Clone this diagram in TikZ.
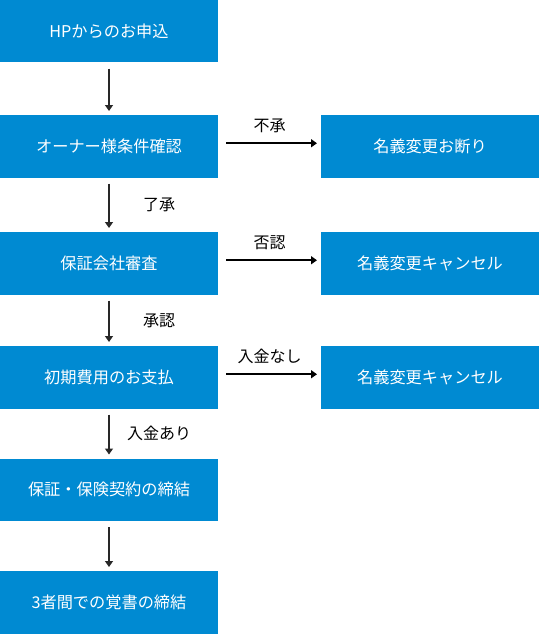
\documentclass[tikz,border=0pt]{standalone}
\usepackage{fontspec}
\setmainfont{Noto Sans CJK JP}
\usetikzlibrary{positioning, arrows.meta}

\definecolor{flowblue}{RGB}{0,138,210}
\definecolor{arrowgray}{RGB}{40,40,40}

\begin{document}
\begin{tikzpicture}[x=1pt, y=1pt,
    flow/.style={fill=flowblue, text=white, minimum width=218pt, minimum height=62.5pt,
        inner sep=0pt, outer sep=0pt, font=\fontsize{16.2}{18}\selectfont},
    down/.style={-{Triangle[width=8pt, length=6pt]}, arrowgray, line width=1.3pt,
        shorten <=6pt, shorten >=4pt},
    side/.style={-{Triangle[width=8pt, length=6pt]}, black, line width=1.8pt,
        shorten <=8pt, shorten >=4pt},
    lab/.style={font=\fontsize{16}{18}\selectfont, text=black}]
    \useasboundingbox (0,0) rectangle (539,-634);

    % Main flow (left column)
    \node[flow] (hp) at (109,-31.25) {HPからのお申込};
    \node[flow, below=52.5pt of hp] (owner) {オーナー様条件確認};
    \node[flow, below=54.5pt of owner] (screen) {保証会社審査};
    \node[flow, below=51.5pt of screen] (payment) {初期費用のお支払};
    \node[flow, below=50pt of payment] (contract) {保証・保険契約の締結};
    \node[flow, below=50pt of contract] (memo) {3者間での覚書の締結};

    % Outcomes (right column)
    \node[flow, right=103pt of owner] (refuse) {名義変更お断り};
    \node[flow, right=103pt of screen] (cancelA) {名義変更キャンセル};
    \node[flow, right=103pt of payment] (cancelB) {名義変更キャンセル};

    % Downward arrows
    \draw[down] (hp) -- (owner);
    \draw[down] (owner) -- (screen) node[midway, lab, xshift=50pt] {了承};
    \draw[down] (screen) -- (payment) node[midway, lab, xshift=50pt] {承認};
    \draw[down] (payment) -- (contract) node[midway, lab, xshift=50pt] {入金あり};
    \draw[down] (contract) -- (memo);

    % Sideways arrows
    \draw[side] ([yshift=3pt]owner.east) -- ([yshift=3pt]refuse.west)
        node[midway, lab, above=6pt] {不承};
    \draw[side] ([yshift=3pt]screen.east) -- ([yshift=3pt]cancelA.west)
        node[midway, lab, above=6pt] {否認};
    \draw[side] ([yshift=3pt]payment.east) -- ([yshift=3pt]cancelB.west)
        node[midway, lab, above=6pt] {入金なし};
\end{tikzpicture}
\end{document}
